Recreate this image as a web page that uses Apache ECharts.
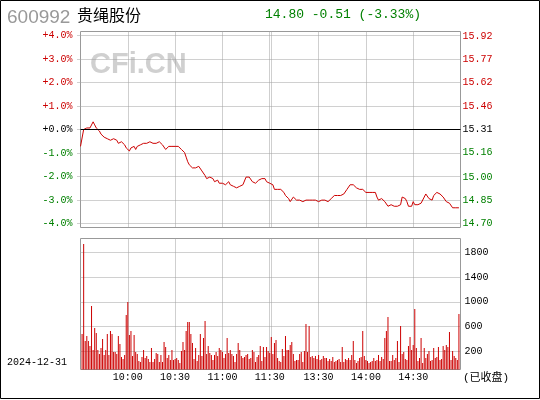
<!DOCTYPE html>
<html><head><meta charset="utf-8">
<script src="https://cdn.jsdelivr.net/npm/echarts@6/dist/echarts.min.js"></script>
<style>html,body{margin:0;padding:0;background:#fff}#c{width:540px;height:400px}</style>
</head><body><div id="c"></div>
<script>
const stockCode = '600992';
const stockName = '贵绳股份';
const quoteText = '14.80 -0.51 (-3.33%)';
const tradeDate = '2024-12-31';
const statusText = '(已收盘)';
const watermark = 'CFi.CN';
const basePrice = 15.31;
const pctRange = 4.17;
const pctTicks = [4, 3, 2, 1, 0, -1, -2, -3, -4];
const pctLabels = ['+4.0%', '+3.0%', '+2.0%', '+1.0%', '+0.0%', '-1.0%', '-2.0%', '-3.0%', '-4.0%'];
const priceTicks = [15.92, 15.77, 15.62, 15.46, 15.31, 15.16, 15.00, 14.85, 14.70];
const volTicks = [200, 600, 1000, 1400, 1800];
const volMin = -94, volMax = 2023;
const timeLabelPos = [30, 60, 90, 120, 151, 181, 211];
const timeLabels = ['10:00', '10:30', '11:00', '11:30', '13:30', '14:00', '14:30'];
const timeGridPos = [30, 60, 90, 120, 121, 151, 181, 211];
const slotCount = 241;

// minute prices, 9:30 .. 15:00
const prices = [
15.20,15.21,15.31,15.31,15.32,15.31,15.32,15.32,15.36,15.34,
15.32,15.31,15.30,15.28,15.27,15.26,15.26,15.25,15.26,15.24,
15.24,15.25,15.26,15.24,15.22,15.23,15.23,15.22,15.21,15.19,
15.18,15.17,15.19,15.20,15.20,15.18,15.20,15.21,15.21,15.22,
15.22,15.22,15.22,15.23,15.23,15.22,15.22,15.22,15.22,15.22,
15.23,15.22,15.21,15.20,15.18,15.19,15.20,15.20,15.20,15.20,
15.20,15.20,15.20,15.20,15.18,15.17,15.16,15.13,15.10,15.08,
15.07,15.06,15.05,15.06,15.07,15.07,15.06,15.04,15.03,15.01,
14.99,14.99,15.00,14.99,14.99,14.97,14.96,14.98,14.96,14.95,
14.96,14.97,14.95,14.96,14.97,14.95,14.94,14.94,14.95,14.93,
14.92,14.94,14.95,14.95,14.96,15.00,15.00,15.00,14.99,14.97,
14.97,14.96,14.97,14.98,14.99,14.99,14.99,14.99,14.97,14.96,
14.96,14.97,14.95,14.92,14.92,14.92,14.91,14.92,14.91,14.90,
14.88,14.87,14.86,14.84,14.85,14.87,14.86,14.85,14.86,14.85,
14.85,14.84,14.84,14.85,14.84,14.85,14.85,14.85,14.85,14.85,
14.84,14.84,14.85,14.85,14.85,14.85,14.85,14.84,14.85,14.86,
14.87,14.88,14.88,14.88,14.88,14.88,14.88,14.89,14.90,14.92,
14.93,14.95,14.96,14.95,14.94,14.93,14.92,14.92,14.92,14.92,
14.92,14.90,14.89,14.90,14.90,14.90,14.89,14.90,14.87,14.85,
14.86,14.86,14.85,14.84,14.83,14.81,14.81,14.82,14.81,14.81,
14.81,14.81,14.81,14.82,14.87,14.87,14.86,14.84,14.81,14.80,
14.81,14.84,14.82,14.82,14.82,14.82,14.83,14.84,14.87,14.89,
14.88,14.86,14.85,14.85,14.88,14.89,14.90,14.90,14.89,14.88,
14.87,14.86,14.84,14.83,14.83,14.82,14.80,14.80,14.80,14.80,
14.80
];

// minute volumes (lots), 9:31 .. 15:00
const volumes = [
480,1935,367,448,367,286,933,222,577,496,
222,157,254,399,141,222,480,141,529,480,
189,189,157,448,319,108,76,141,787,997,
464,529,125,464,189,157,44,28,108,222,
92,125,76,28,254,28,76,173,157,28,
141,28,351,270,92,141,60,222,60,76,
92,60,11,205,351,222,529,674,674,480,
335,76,254,44,141,480,125,415,690,157,
286,173,141,60,141,189,125,254,222,189,
92,157,415,173,222,157,125,28,157,335,
222,125,92,108,141,157,76,92,222,189,
28,108,141,286,44,270,108,270,205,173,
432,
157,335,383,92,44,28,238,125,448,222,
222,302,351,157,44,60,60,157,189,28,
205,642,189,609,108,125,92,125,76,141,
60,76,125,92,92,44,76,44,108,28,
44,60,76,28,270,28,76,60,92,60,
141,367,60,11,44,92,108,529,125,60,44,
11,28,44,92,44,60,141,44,108,76,415,
529,755,44,44,141,60,92,367,28,609,157,
189,76,60,286,432,222,302,884,254,44,92,415,
11,254,92,157,205,44,60,254,92,108,
270,60,76,286,222,302,270,512,60,205,
125,92,60,803
];

const RED = '#cc0000', GREEN = '#008000', GRIDC = '#a0a0a0', BOXC = '#999999';
const MONO = "'Liberation Mono', 'DejaVu Sans Mono', monospace";
const dotted = { show: true, lineStyle: { color: GRIDC, type: [1, 1], width: 1 } };

const chart = echarts.init(document.getElementById('c'), null, { renderer: 'canvas', width: 540, height: 400 });
const pMin = basePrice * (1 - pctRange / 100);
const pMax = basePrice * (1 + pctRange / 100);
const upDownColor = (v, ref) => (Math.abs(v - ref) < 1e-6 ? '#000' : (v > ref ? RED : GREEN));

const xBase = (grid, showLabel) => ({
  gridIndex: grid, type: 'value', min: 0, max: slotCount,
  axisLine: { show: false },
  axisTick: { show: false, customValues: timeGridPos },
  axisLabel: {
    show: showLabel, customValues: timeLabelPos, color: '#000', fontFamily: MONO, fontSize: 10, margin: 3,
    formatter: v => { const i = timeLabelPos.indexOf(Math.round(v)); return i >= 0 ? timeLabels[i] : ''; }
  },
  splitLine: dotted
});

chart.setOption({
  animation: false,
  grid: [
    { left: 80.5, top: 31.5, width: 380, height: 196, show: true, borderColor: BOXC, borderWidth: 1, backgroundColor: 'transparent' },
    { left: 80.5, top: 238.5, width: 380, height: 131, show: true, borderColor: BOXC, borderWidth: 1, backgroundColor: 'transparent' }
  ],
  xAxis: [xBase(0, false), xBase(1, true)],
  yAxis: [
    {
      gridIndex: 0, type: 'value', min: -pctRange, max: pctRange, position: 'left',
      axisLine: { show: false },
      axisTick: { show: true, customValues: pctTicks, length: 4, lineStyle: { color: GRIDC, type: [1, 1] } },
      axisLabel: {
        customValues: pctTicks, fontFamily: MONO, fontSize: 10, margin: 8,
        formatter: v => pctLabels[pctTicks.indexOf(Math.round(v))],
        color: v => upDownColor(parseFloat(v), 0)
      },
      splitLine: dotted
    },
    {
      gridIndex: 0, type: 'value', min: pMin, max: pMax, position: 'right',
      axisLine: { show: false },
      axisTick: { show: false, customValues: priceTicks },
      axisLabel: {
        customValues: priceTicks, fontFamily: MONO, fontSize: 10, margin: 2,
        formatter: v => Number(v).toFixed(2),
        color: v => upDownColor(Math.round(parseFloat(v) * 100) / 100, basePrice)
      },
      splitLine: { show: false }
    },
    {
      gridIndex: 1, type: 'value', min: volMin, max: volMax, startValue: volMin, position: 'right',
      axisLine: { show: false },
      axisTick: { show: false, customValues: volTicks },
      axisLabel: { customValues: volTicks, fontFamily: MONO, fontSize: 10, margin: 4, color: '#000', formatter: v => String(Math.round(v)) },
      splitLine: dotted
    }
  ],
  series: [
    {
      type: 'line', xAxisIndex: 0, yAxisIndex: 1,
      data: prices.map((p, i) => [i, p]),
      symbol: 'none', lineStyle: { color: RED, width: 1 }, z: 3,
      markLine: {
        silent: true, symbol: ['none', 'none'], label: { show: false },
        lineStyle: { color: '#000', type: 'solid', width: 1 },
        data: [{ yAxis: basePrice }]
      }
    },
    {
      type: 'bar', xAxisIndex: 1, yAxisIndex: 2,
      data: volumes.map((v, i) => [i + 1, v]),
      barWidth: 1, itemStyle: { color: RED }
    }
  ],
  graphic: [
    { type: 'rect', shape: { x: 0.5, y: 0.5, width: 539, height: 398 }, style: { fill: 'none', stroke: '#000', lineWidth: 1 }, silent: true },
    { type: 'text', left: 7, top: 8, style: { text: stockCode, fill: '#999999', font: "19px 'Liberation Sans', Arial, sans-serif" } },
    { type: 'text', left: 77, top: 7, style: { text: stockName, fill: '#000', font: "16px 'Noto Sans CJK SC', sans-serif" } },
    { type: 'text', left: 265, top: 8, style: { text: quoteText, fill: GREEN, font: "13px " + MONO } },
    { type: 'text', left: 90, top: 50, z: -1, style: { text: watermark, fill: '#d0d0d0', font: "bold 29px 'Liberation Sans', Arial, sans-serif" } },
    { type: 'text', left: 7, top: 357, style: { text: tradeDate, fill: '#000', font: "10px " + MONO } },
    { type: 'text', left: 463, top: 373, style: { text: statusText, fill: '#000', font: "11px " + MONO + ", 'Noto Sans CJK SC'" } }
  ]
});
</script>
</body></html>
